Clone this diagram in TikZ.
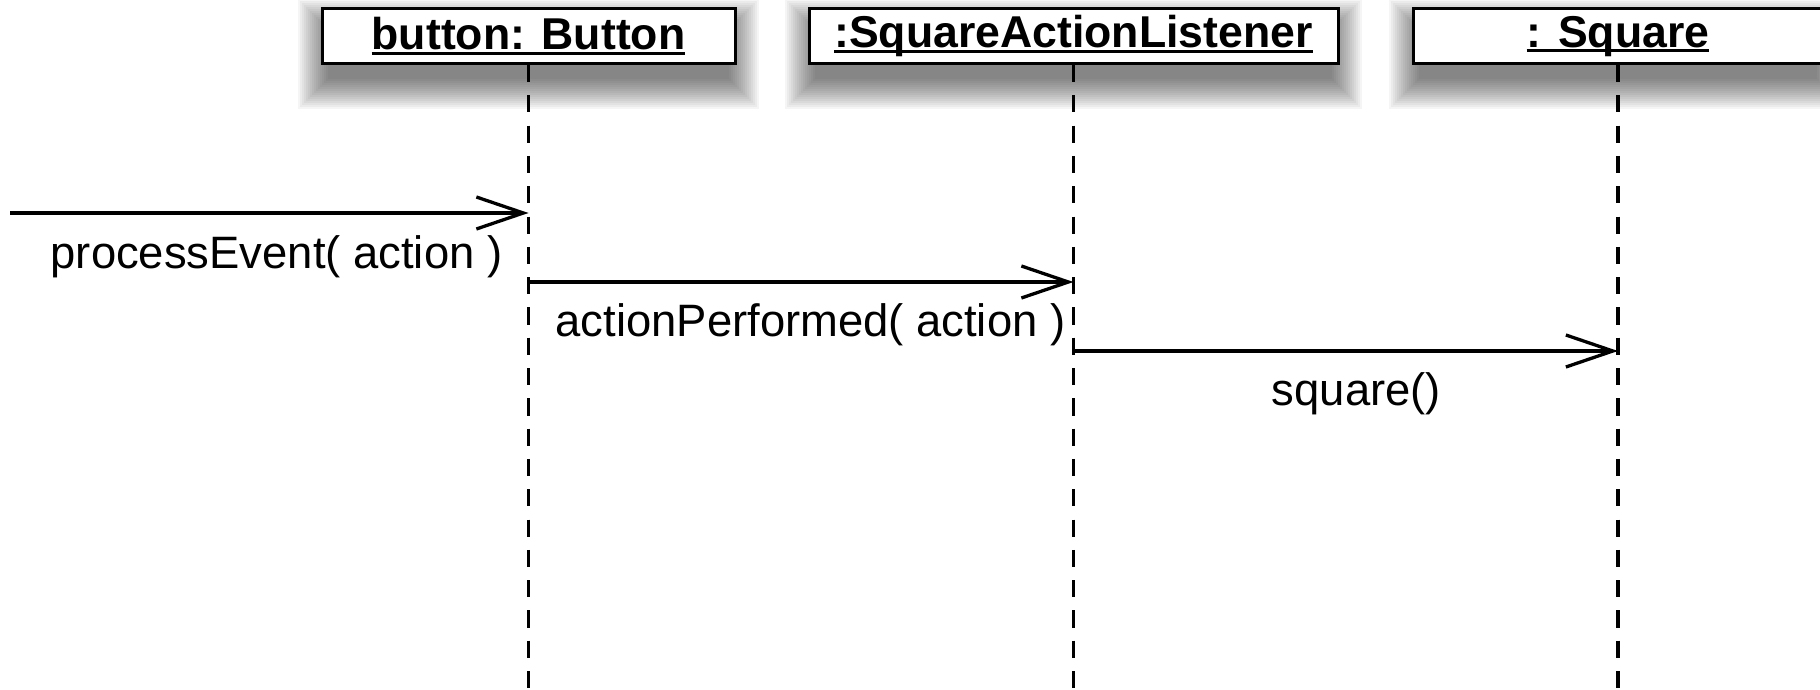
\documentclass[tikz,border=0pt]{standalone}
\usepackage{fontspec}
\setmainfont{Liberation Sans}
\usetikzlibrary{arrows.meta}
\newsavebox\ulbx
\newcommand\ulabel[1]{\sbox\ulbx{#1}\rlap{\rule[-2.6pt]{\wd\ulbx}{1.5pt}}\usebox\ulbx}
\newcommand\boxshadow[4]{%
  \foreach \k in {0,...,15}{%
    \fill[black,opacity=0.04] ({#1+6-2*\k},{#2+20-2*\k}) rectangle ({#3-6+2*\k},{#4+16+2*\k});}}
\begin{document}
\begin{tikzpicture}[x=0.5pt,y=-0.5pt,
  lbl/.style={inner sep=0pt, font=\fontsize{22.7}{27}\selectfont},
  objbox/.style={draw, line width=1.5pt, fill=white, minimum height=27.25pt, inner sep=0pt, font=\fontsize{22.3}{27}\selectfont\bfseries},
  lifeline/.style={line width=1.7pt, dash pattern=on 8.6pt off 6.55pt},
  msg/.style={line width=1.65pt, -{Straight Barb[length=23.5pt,width=16pt]}}]
\useasboundingbox (0,0) rectangle (1820,690);
\begin{scope}
\clip (0,0) rectangle (1820,690);
\boxshadow{322}{9}{735}{63.5}
\boxshadow{809}{9}{1338}{63.5}
\boxshadow{1413}{9}{1823}{63.5}
% objects
\node[objbox, minimum width=206.5pt] (b1) at (528.5,36.25) {\ulabel{button: Button}};
\node[objbox, minimum width=264.5pt] (b2) at (1073.5,36.25) {\ulabel{:SquareActionListener}};
\node[objbox, minimum width=205pt] (b3) at (1618,36.25) {\ulabel{: Square}};
\end{scope}
% lifelines
\coordinate (e1) at (528.5,692);
\coordinate (e2) at (1073.5,692);
\coordinate (e3) at (1618,692);
\draw[lifeline] (b1.south) -- (e1);
\draw[lifeline] (b2.south) -- (e2);
\draw[lifeline] (b3.south) -- (e3);
% messages
\coordinate (m0) at (10,213);
\coordinate (m1) at (528.5,213);
\coordinate (m2s) at (528.5,282);
\coordinate (m2) at (1073.5,282);
\coordinate (m3s) at (1073.5,351);
\coordinate (m3) at (1618,351);
\draw[msg] (m0) -- (m1);
\draw[msg] (m2s) -- (m2);
\draw[msg] (m3s) -- (m3);
% labels
\node[lbl] (l1) at (276.5,257) {processEvent( action )};
\node[lbl] (l2) at (810.5,325) {actionPerformed( action )};
\node[lbl] (l3) at (1356.5,394) {square()};
\end{tikzpicture}
\end{document}
